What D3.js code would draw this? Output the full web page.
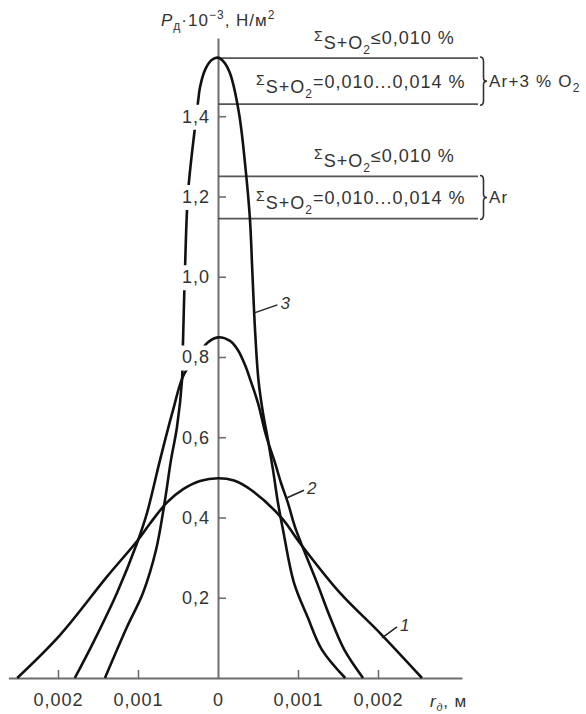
<!DOCTYPE html>
<html>
<head>
<meta charset="utf-8">
<script src="https://cdn.jsdelivr.net/npm/d3@7"></script>
<style>
  html, body { margin: 0; background: #fff; }
  svg { display: block; font-family: "Liberation Sans", Arial, Helvetica, sans-serif; }
</style>
</head>
<body>
<svg id="chart" width="586" height="714"></svg>
<script>
// Radial distribution of arc pressure P_д (×10^-3 N/m²) over radius r_д (m)
// Curve 1
const r1 = [-0.00251, -0.001975, -0.00139, -0.0010, -0.00085, -0.00064, -0.00044, -0.000225, 0,
            0.0002, 0.00041, 0.0008, 0.001025, 0.001525, 0.002025, 0.00255];
const p1 = [0, 0.107, 0.252, 0.344, 0.385, 0.437, 0.470, 0.491, 0.498,
            0.492, 0.469, 0.398, 0.336, 0.212, 0.112, 0];
// Curve 2
const r2 = [-0.00179, -0.001563, -0.001263, -0.001013, -0.000888, -0.000725, -0.000563, -0.000425,
            -0.0002, -0.000125, 0, 0.00015, 0.00025, 0.000338, 0.000413, 0.0005, 0.0006, 0.000713,
            0.000788, 0.000875, 0.000963, 0.001238, 0.0014, 0.00158, 0.001813];
const p2 = [0, 0.087, 0.212, 0.336, 0.411, 0.543, 0.667, 0.757,
            0.819, 0.837, 0.849, 0.840, 0.817, 0.780, 0.738, 0.685, 0.605, 0.536,
            0.486, 0.436, 0.376, 0.237, 0.152, 0.07, 0];
// Curve 3
const r3 = [-0.001413, -0.001138, -0.000938, -0.000775, -0.000663, -0.000588, -0.000513, -0.00045,
            -0.000438, -0.000413, -0.000375, -0.000288, -0.00025, -0.000225, -0.000163, -0.00008, 0,
            0.000075, 0.00015, 0.000263, 0.00035, 0.0004, 0.00043, 0.000463, 0.000506, 0.000563,
            0.000625, 0.000688, 0.00075, 0.000813, 0.00095, 0.00112, 0.0013, 0.00159];
const p3 = [0, 0.127, 0.212, 0.319, 0.443, 0.543, 0.625, 0.742,
            0.834, 1.016, 1.208, 1.372, 1.435, 1.472, 1.515, 1.540, 1.546,
            1.535, 1.507, 1.407, 1.258, 1.141, 1.009, 0.867, 0.742, 0.660,
            0.593, 0.518, 0.436, 0.369, 0.237, 0.152, 0.07, 0];

const curveNames = ["1", "2", "3"];
// where each curve number's leader touches its curve [r, P]
const leaderAnchors = [[0.00205, 0.10], [0.00085, 0.448], [0.000455, 0.91]];

const xTicks = [-0.002, -0.001, 0, 0.001, 0.002];
const yTicks = [0.2, 0.4, 0.6, 0.8, 1.0, 1.2, 1.4];

// pressure bands for the two shielding gases [lower, upper]
const bandArO2 = [1.43, 1.545];
const bandAr = [1.145, 1.25];

const ink = "#111";
const grey = "#6e6e6e";
const textCol = "#333";

const svg = d3.select("#chart");

const x = d3.scaleLinear().domain([-0.00262, 0.00305]).range([8.4, 462]);
const y = d3.scaleLinear().domain([0, 1.595]).range([678, 38]);

const comma = s => s.replace(".", ",");

// ---- axes (lines and ticks, beneath the curves)
const gx = svg.append("g")
  .attr("transform", `translate(0,${y(0)})`)
  .call(d3.axisBottom(x).tickValues(xTicks).tickSizeInner(-8).tickSizeOuter(0)
    .tickPadding(15).tickFormat(d => d === 0 ? "0" : comma(d3.format(".3f")(Math.abs(d)))));
gx.select(".domain").attr("stroke", grey).attr("stroke-width", 2);
gx.selectAll(".tick line").attr("stroke", grey).attr("stroke-width", 1.6);
gx.selectAll(".tick").filter(d => d === 0).select("line").remove();
gx.selectAll(".tick text").attr("fill", textCol).attr("font-size", 18)
  .attr("letter-spacing", "1px").attr("font-family", "Liberation Sans, Arial, sans-serif");

const gy = svg.append("g")
  .attr("transform", `translate(${x(0)},0)`)
  .call(d3.axisLeft(y).tickValues(yTicks).tickSizeInner(-8).tickSizeOuter(0).tickFormat(""));
gy.select(".domain").attr("stroke", grey).attr("stroke-width", 2);
gy.selectAll(".tick line").attr("stroke", grey).attr("stroke-width", 1.6);

// ---- band boundary lines with braces
const bandRight = 478;
const bands = [
  { lv: bandArO2, top: "≤0,010 %", bottom: "=0,010...0,014 %", gas: "ArO2" },
  { lv: bandAr, top: "≤0,010 %", bottom: "=0,010...0,014 %", gas: "Ar" }
];
bands.forEach(b => {
  b.lv.forEach(v => {
    svg.append("line")
      .attr("x1", x(0)).attr("x2", bandRight)
      .attr("y1", y(v)).attr("y2", y(v))
      .attr("stroke", "#555").attr("stroke-width", 1.8);
  });
  const y0 = y(b.lv[1]), y1 = y(b.lv[0]), m = (y0 + y1) / 2, w = 3.5, xb = bandRight + 2;
  svg.append("path")
    .attr("d", `M${xb},${y0 - 1} Q${xb + w},${y0 - 1} ${xb + w},${y0 + w} L${xb + w},${m - w} ` +
               `Q${xb + w},${m} ${xb + 2 * w},${m} Q${xb + w},${m} ${xb + w},${m + w} ` +
               `L${xb + w},${y1 - w} Q${xb + w},${y1 + 1} ${xb},${y1 + 1}`)
    .attr("fill", "none").attr("stroke", "#333").attr("stroke-width", 1.6);

  const gl = svg.append("text").attr("x", xb + 2 * w + 2).attr("y", m + 6)
    .attr("fill", textCol).attr("font-size", 17).attr("letter-spacing", "1.2px");
  if (b.gas === "ArO2") {
    gl.append("tspan").text("Ar+3 % O");
    gl.append("tspan").attr("font-size", 12).attr("dy", 5).text("2");
  } else {
    gl.append("tspan").text("Ar");
  }

  // Σ(S+O2) labels: "≤" above the upper line, range between the lines
  const sumLabel = (tx, ty, tail) => {
    const t = svg.append("text").attr("x", tx).attr("y", ty)
      .attr("fill", textCol).attr("font-size", 18).attr("letter-spacing", "1px");
    t.append("tspan").attr("font-size", 14).attr("dy", -3).text("Σ");
    t.append("tspan").attr("dy", 8).text("S+O");
    t.append("tspan").attr("font-size", 12).attr("dy", 5).text("2");
    t.append("tspan").attr("dy", -10).text(tail);
  };
  sumLabel(314, y0 - 14, b.top);
  sumLabel(256, m + 7, b.bottom);
});

// ---- curves
const line = d3.line().x(d => x(d[0])).y(d => y(d[1])).curve(d3.curveCatmullRom.alpha(0.5));
const series = [d3.zip(r1, p1), d3.zip(r2, p2), d3.zip(r3, p3)];
svg.append("g").selectAll("path").data(series).join("path")
  .attr("d", line)
  .attr("fill", "none").attr("stroke", ink).attr("stroke-width", 2.6)
  .attr("stroke-linejoin", "round");

// ---- curve numbers with leaders
const labelOffsets = [[15, -11], [18, -8], [23, -8]];
leaderAnchors.forEach((a, i) => {
  const ax = x(a[0]), ay = y(a[1]);
  const [dx, dy] = labelOffsets[i];
  svg.append("line").attr("x1", ax).attr("y1", ay).attr("x2", ax + dx).attr("y2", ay + dy)
    .attr("stroke", "#222").attr("stroke-width", 1.5);
  svg.append("text").attr("x", ax + dx + 3).attr("y", ay + dy + 4)
    .attr("fill", textCol).attr("font-size", 17).attr("font-style", "italic")
    .text(curveNames[i]);
});

// ---- y tick labels on white boxes (drawn over the curves)
const gyl = svg.append("g")
  .attr("transform", `translate(${x(0)},0)`)
  .call(d3.axisLeft(y).tickValues(yTicks).tickSizeInner(0).tickSizeOuter(0).tickPadding(8)
    .tickFormat(d => comma(d.toFixed(1))));
gyl.select(".domain").remove();
gyl.selectAll(".tick line").remove();
gyl.selectAll(".tick text").attr("fill", textCol).attr("font-size", 18)
  .attr("letter-spacing", "1px").attr("font-family", "Liberation Sans, Arial, sans-serif");
gyl.selectAll(".tick").each(function () {
  const g = d3.select(this);
  const bb = g.select("text").node().getBBox();
  g.insert("rect", "text")
    .attr("x", bb.x - 3).attr("y", -12).attr("width", bb.width + 5).attr("height", 25)
    .attr("fill", "#fff");
});

// ---- axis titles
const ty = svg.append("text").attr("x", 161).attr("y", 26)
  .attr("fill", textCol).attr("font-size", 17).attr("letter-spacing", "1px");
ty.append("tspan").attr("font-style", "italic").text("P");
ty.append("tspan").attr("font-size", 12).attr("dy", 4).text("д");
ty.append("tspan").attr("dy", -4).text("·10");
ty.append("tspan").attr("font-size", 12).attr("dy", -7).text("−3");
ty.append("tspan").attr("dy", 7).text(", Н/м");
ty.append("tspan").attr("font-size", 12).attr("dy", -7).text("2");

const tx = svg.append("text").attr("x", 430).attr("y", 707)
  .attr("fill", textCol).attr("font-size", 17).attr("letter-spacing", "0.8px");
tx.append("tspan").attr("font-style", "italic").text("r");
tx.append("tspan").attr("font-style", "italic").attr("font-size", 11).attr("dy", 4).text("д");
tx.append("tspan").attr("dy", -4).text(", м");
</script>
</body>
</html>
